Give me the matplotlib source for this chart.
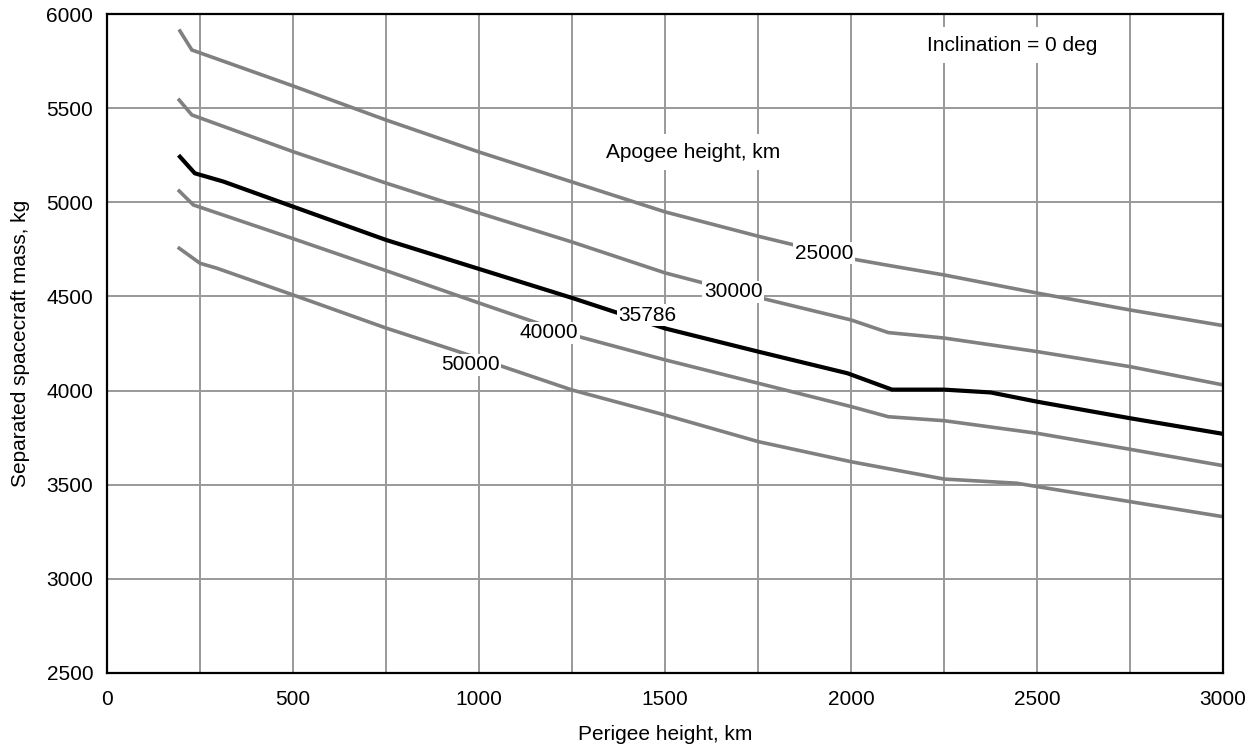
import matplotlib
matplotlib.use("Agg")
import matplotlib.pyplot as plt

plt.rcParams['font.family'] = ['Liberation Sans', 'DejaVu Sans']

# Perigee height (km) and separated mass (kg) for each apogee height
km_25000 = [196, 228, 500, 750, 1000, 1250, 1500, 1750, 2000, 2100, 2250, 2500, 2750, 3000]
kg_25000 = [5910, 5809, 5618, 5437, 5267, 5108, 4949, 4820, 4700, 4665, 4614, 4518, 4428, 4345]

km_30000 = [194, 228, 500, 750, 1000, 1250, 1500, 1750, 2000, 2100, 2250, 2500, 2750, 3000]
kg_30000 = [5543, 5464, 5269, 5102, 4943, 4789, 4625, 4495, 4375, 4308, 4279, 4207, 4127, 4030]

km_35786 = [196, 236, 313, 500, 750, 1000, 1250, 1500, 1750, 1990, 2110, 2250, 2375, 2500, 2750, 3000]
kg_35786 = [5242, 5154, 5110, 4977, 4800, 4646, 4492, 4330, 4207, 4092, 4005, 4005, 3990, 3941, 3853, 3770]

km_40000 = [194, 232, 500, 750, 1000, 1250, 1500, 1750, 2000, 2100, 2250, 2500, 2750, 3000]
kg_40000 = [5060, 4986, 4807, 4637, 4465, 4296, 4163, 4039, 3915, 3861, 3840, 3773, 3688, 3601]

km_50000 = [194, 250, 295, 500, 750, 940, 1250, 1500, 1750, 2000, 2250, 2445, 2500, 2750, 3000]
kg_50000 = [4756, 4676, 4650, 4508, 4332, 4210, 4003, 3870, 3729, 3622, 3530, 3508, 3490, 3410, 3330]

curve_names = ['25000', '30000', '35786', '40000', '50000']
label_km = [1927, 1683, 1452, 1188, 976]
label_kg = [4729, 4524, 4401, 4306, 4136]

FS = 15

fig = plt.figure(figsize=(12.49, 7.5), dpi=100)
ax = fig.add_axes([0.0857, 0.1027, 0.8936, 0.8786])

curves = [(km_25000, kg_25000), (km_30000, kg_30000), (km_35786, kg_35786),
          (km_40000, kg_40000), (km_50000, kg_50000)]
for name, (xs, ys) in zip(curve_names, curves):
    # the geostationary apogee curve is drawn in black, the rest in grey
    if name == '35786':
        ax.plot(xs, ys, color='black', lw=3.0, zorder=3, solid_joinstyle='miter')
    else:
        ax.plot(xs, ys, color='#808080', lw=2.6, zorder=3, solid_joinstyle='miter')

box = dict(facecolor='white', edgecolor='none', pad=1.0)
for name, lx, ly in zip(curve_names, label_km, label_kg):
    ax.text(lx, ly, name, ha='center', va='center', fontsize=FS, bbox=box, zorder=5)

ax.text(1575, 5267, 'Apogee height, km', ha='center', va='center', fontsize=FS,
        bbox=dict(facecolor='white', edgecolor='none', pad=6), zorder=5)
ax.text(2433, 5835, 'Inclination = 0 deg', ha='center', va='center', fontsize=FS,
        bbox=dict(facecolor='white', edgecolor='none', pad=6), zorder=5)

ax.set_xlim(0, 3000)
ax.set_ylim(2500, 6000)
ax.set_xticks(range(0, 3001, 500))
ax.set_xticks(range(0, 3001, 250), minor=True)
ax.set_yticks(range(2500, 6001, 500))
ax.grid(True, which='both', color='#999999', lw=1.4, zorder=1)
ax.set_axisbelow(True)
ax.tick_params(which='both', length=0, labelsize=FS)
ax.tick_params(axis='x', pad=12)
ax.tick_params(axis='y', pad=10)

for sp in ax.spines.values():
    sp.set_linewidth(1.6)
    sp.set_zorder(6)

ax.set_xlabel('Perigee height, km', fontsize=FS, labelpad=12)
ax.set_ylabel('Separated spacecraft mass, kg', fontsize=FS, labelpad=12)

fig.savefig('out.png', dpi=100)
